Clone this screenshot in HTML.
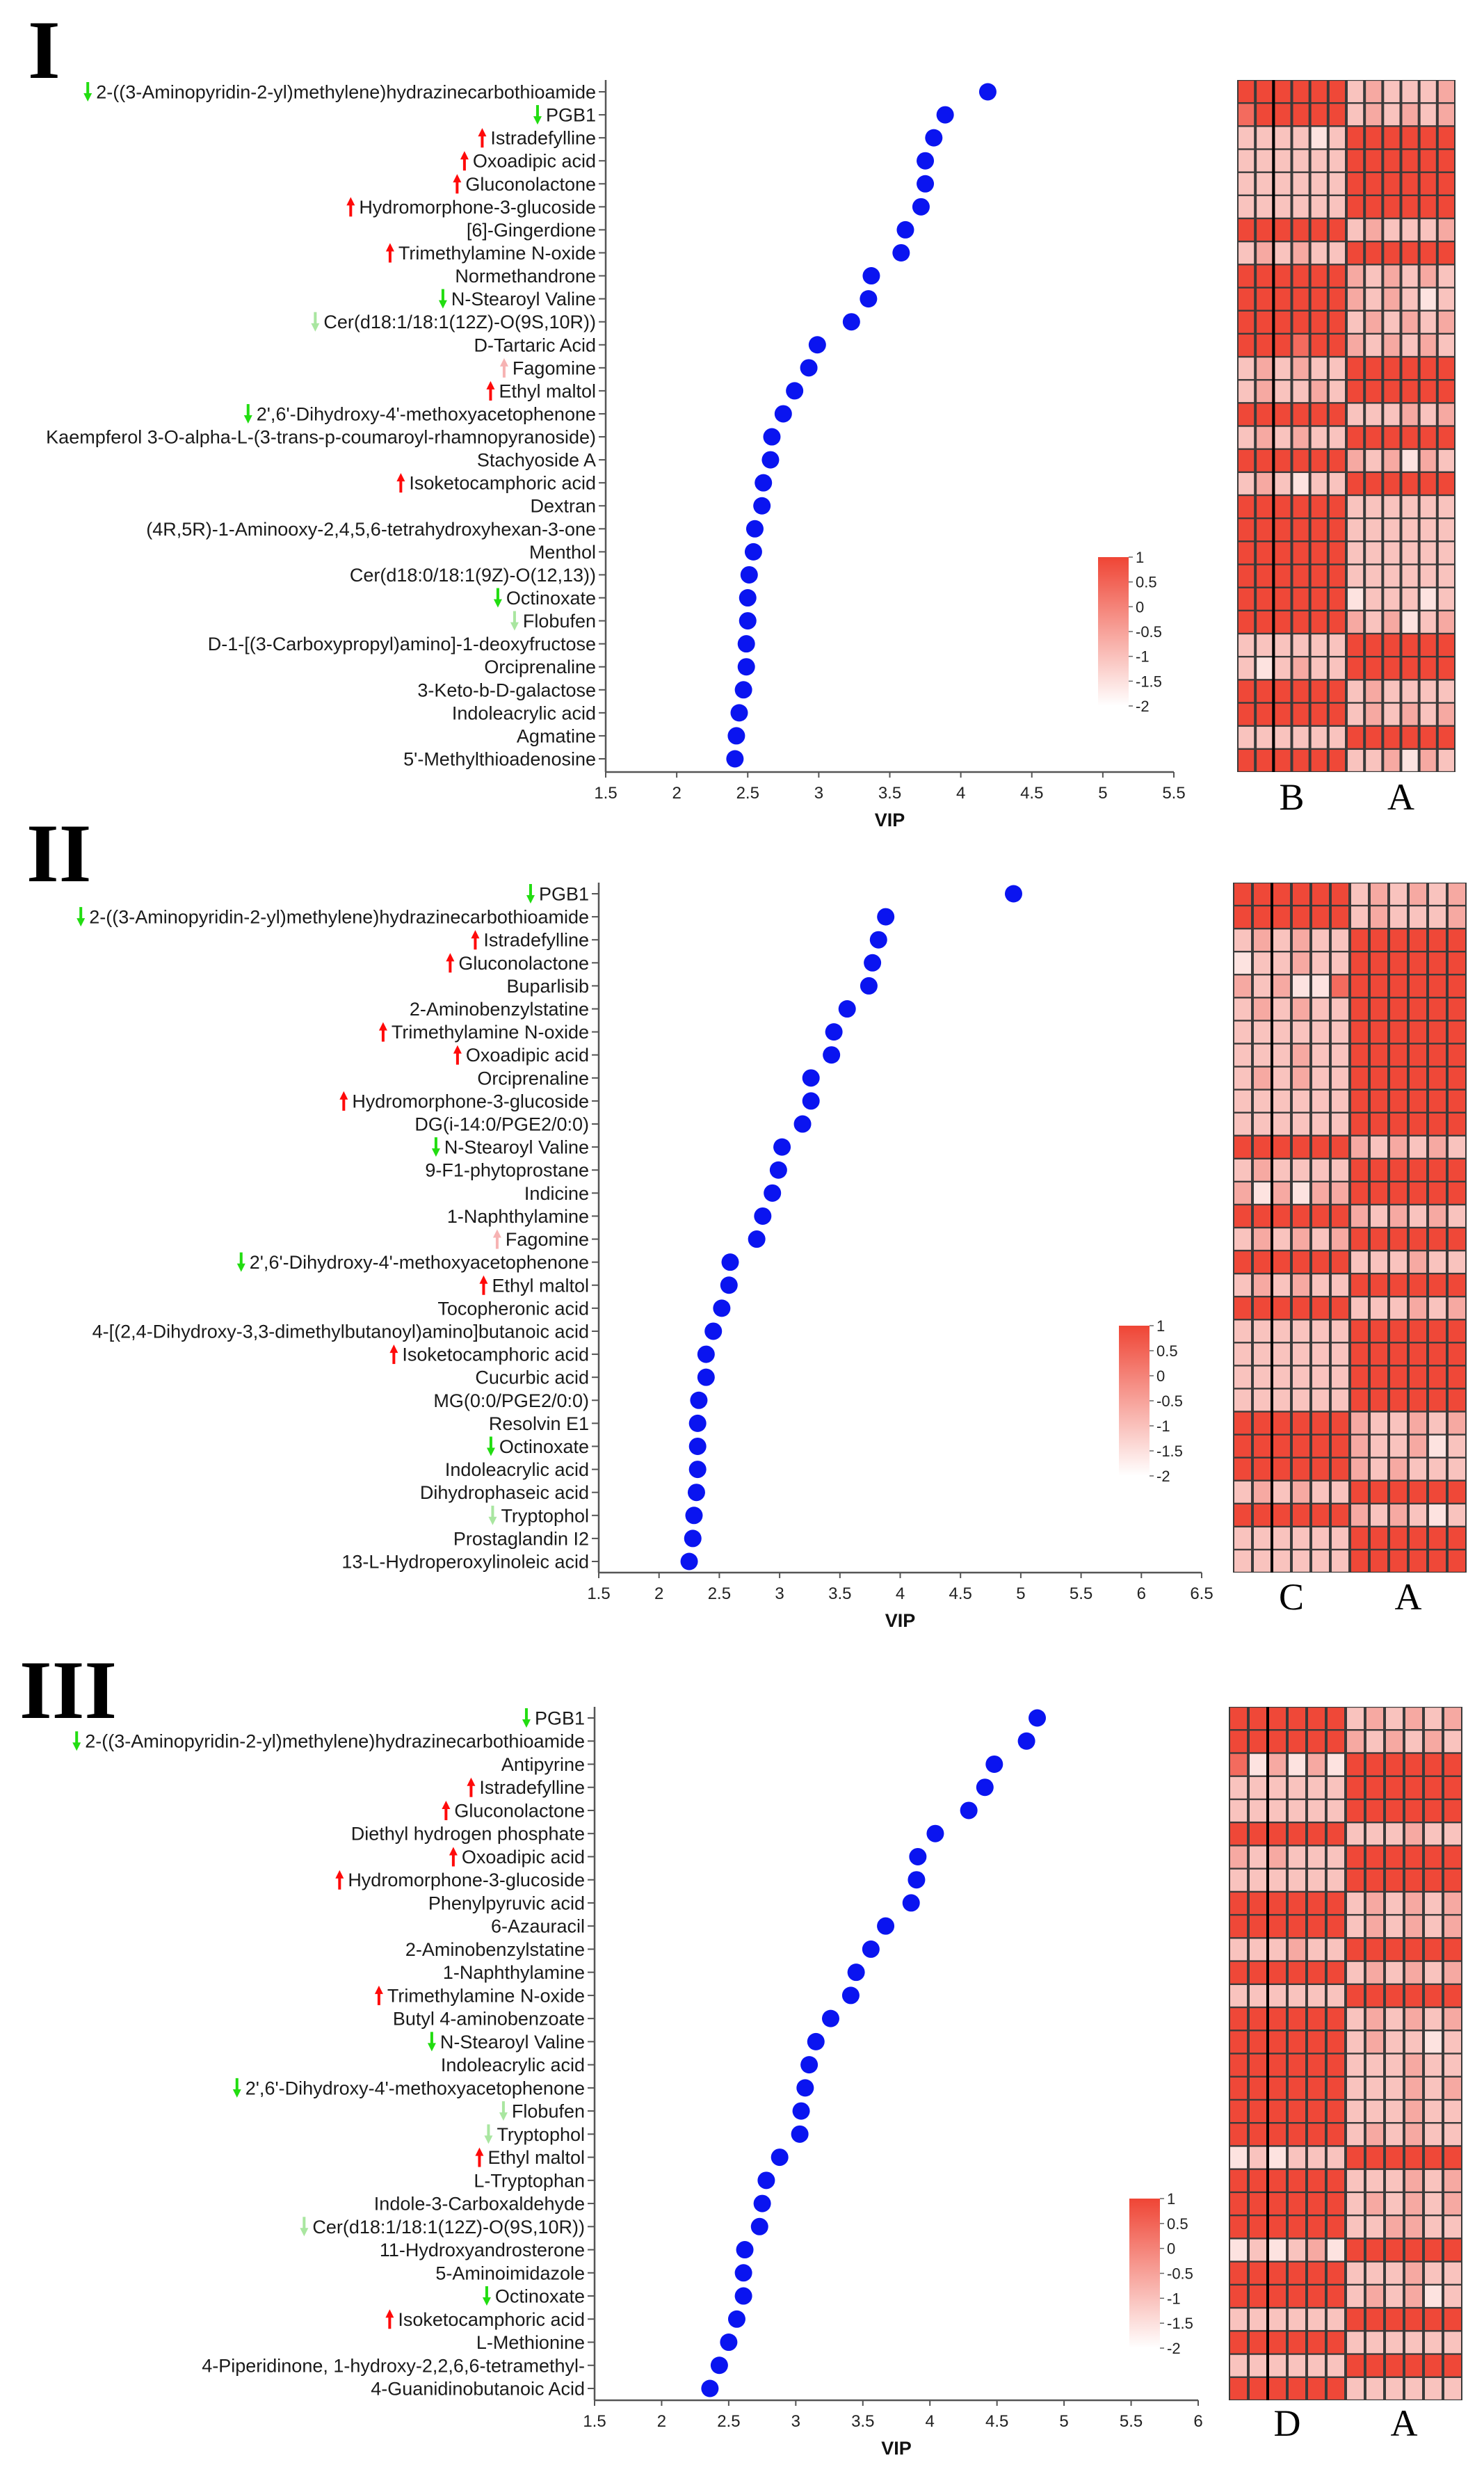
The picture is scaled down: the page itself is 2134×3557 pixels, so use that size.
<!DOCTYPE html>
<html><head><meta charset="utf-8"><style>
html,body{margin:0;padding:0;background:#fff;}
svg{display:block;font-family:"Liberation Sans",Arial,sans-serif;}
</style></head><body>
<svg id="fig" xmlns="http://www.w3.org/2000/svg" width="2134" height="3557" viewBox="0 0 2134 3557"></svg>
<script>
// ---------- Panel I data ----------
const labelsI = ["2-((3-Aminopyridin-2-yl)methylene)hydrazinecarbothioamide","PGB1","Istradefylline","Oxoadipic acid","Gluconolactone","Hydromorphone-3-glucoside","[6]-Gingerdione","Trimethylamine N-oxide","Normethandrone","N-Stearoyl Valine","Cer(d18:1/18:1(12Z)-O(9S,10R))","D-Tartaric Acid","Fagomine","Ethyl maltol","2',6'-Dihydroxy-4'-methoxyacetophenone","Kaempferol 3-O-alpha-L-(3-trans-p-coumaroyl-rhamnopyranoside)","Stachyoside A","Isoketocamphoric acid","Dextran","(4R,5R)-1-Aminooxy-2,4,5,6-tetrahydroxyhexan-3-one","Menthol","Cer(d18:0/18:1(9Z)-O(12,13))","Octinoxate","Flobufen","D-1-[(3-Carboxypropyl)amino]-1-deoxyfructose","Orciprenaline","3-Keto-b-D-galactose","Indoleacrylic acid","Agmatine","5'-Methylthioadenosine"];
const vipI = [4.19,3.89,3.81,3.75,3.75,3.72,3.61,3.58,3.37,3.35,3.23,2.99,2.93,2.83,2.75,2.67,2.66,2.61,2.60,2.55,2.54,2.51,2.50,2.50,2.49,2.49,2.47,2.44,2.42,2.41];
const arrowsI = ["G","G","R","R","R","R","","R","","G","LG","","P","R","G","","","R","","","","","G","LG","","","","","",""];
const heatI = ["444444121112","344444121212","111101444444","111111444444","111111444444","111111444444","444444121112","121211444444","444444212121","444444212101","444444121212","444344212121","121211444444","121121444444","444444111212","121211444444","444444212021","121011444444","444444111111","444444111111","444444111111","444444111111","444444011101","444444212012","111111444444","101211444444","444444121111","444444121212","111111444444","444444112021"];
const ticksI = [1.5,2,2.5,3,3.5,4,4.5,5,5.5];
// ---------- Panel II data ----------
const labelsII = ["PGB1","2-((3-Aminopyridin-2-yl)methylene)hydrazinecarbothioamide","Istradefylline","Gluconolactone","Buparlisib","2-Aminobenzylstatine","Trimethylamine N-oxide","Oxoadipic acid","Orciprenaline","Hydromorphone-3-glucoside","DG(i-14:0/PGE2/0:0)","N-Stearoyl Valine","9-F1-phytoprostane","Indicine","1-Naphthylamine","Fagomine","2',6'-Dihydroxy-4'-methoxyacetophenone","Ethyl maltol","Tocopheronic acid","4-[(2,4-Dihydroxy-3,3-dimethylbutanoyl)amino]butanoic acid","Isoketocamphoric acid","Cucurbic acid","MG(0:0/PGE2/0:0)","Resolvin E1","Octinoxate","Indoleacrylic acid","Dihydrophaseic acid","Tryptophol","Prostaglandin I2","13-L-Hydroperoxylinoleic acid"];
const vipII = [4.94,3.88,3.82,3.77,3.74,3.56,3.45,3.43,3.26,3.26,3.19,3.02,2.99,2.94,2.86,2.81,2.59,2.58,2.52,2.45,2.39,2.39,2.33,2.32,2.32,2.32,2.31,2.29,2.28,2.25];
const arrowsII = ["G","G","R","R","","","R","R","","R","","G","","","","P","G","R","","","R","","","","G","","","LG","",""];
const heatII = ["444444121212","444444121112","121211444444","011211444444","212003444444","121211444444","111111444444","111211444444","121211444444","111111444444","111111444444","444444212121","121111444444","202022444444","444444212121","121212444444","444444111211","121211444444","444444111212","111111444444","111111444444","111111444444","111111444444","444444211212","444444211201","444444212111","121211444444","444444212101","111111444444","111111444444"];
const ticksII = [1.5,2,2.5,3,3.5,4,4.5,5,5.5,6,6.5];
// ---------- Panel III data ----------
const labelsIII = ["PGB1","2-((3-Aminopyridin-2-yl)methylene)hydrazinecarbothioamide","Antipyrine","Istradefylline","Gluconolactone","Diethyl hydrogen phosphate","Oxoadipic acid","Hydromorphone-3-glucoside","Phenylpyruvic acid","6-Azauracil","2-Aminobenzylstatine","1-Naphthylamine","Trimethylamine N-oxide","Butyl 4-aminobenzoate","N-Stearoyl Valine","Indoleacrylic acid","2',6'-Dihydroxy-4'-methoxyacetophenone","Flobufen","Tryptophol","Ethyl maltol","L-Tryptophan","Indole-3-Carboxaldehyde","Cer(d18:1/18:1(12Z)-O(9S,10R))","11-Hydroxyandrosterone","5-Aminoimidazole","Octinoxate","Isoketocamphoric acid","L-Methionine","4-Piperidinone, 1-hydroxy-2,2,6,6-tetramethyl-","4-Guanidinobutanoic Acid"];
const vipIII = [4.80,4.72,4.48,4.41,4.29,4.04,3.91,3.90,3.86,3.67,3.56,3.45,3.41,3.26,3.15,3.10,3.07,3.04,3.03,2.88,2.78,2.75,2.73,2.62,2.61,2.61,2.56,2.50,2.43,2.36];
const arrowsIII = ["G","G","","R","R","","R","R","","","","","R","","G","","G","LG","LG","R","","","LG","","","G","R","","",""];
const heatIII = ["444444121212","444444212121","302020444444","111111444444","111111444444","444444111211","212111444444","111111444444","444444121212","444444121212","111211444444","444444121212","111111444444","444444121212","444444121101","444444111211","444444111212","444444111211","444444121211","010111444444","444444111212","444444121212","444444112211","010120444444","444444111211","444444121201","111111444444","444444111111","111111444444","444444111111"];
const ticksIII = [1.5,2,2.5,3,3.5,4,4.5,5,5.5,6];
const cbTicks = [1,0.5,0,-0.5,-1,-1.5,-2];

const NS="http://www.w3.org/2000/svg";
const svg=document.getElementById('fig');
function mk(tag,attrs,parent){const e=document.createElementNS(NS,tag);for(const k in attrs)e.setAttribute(k,attrs[k]);(parent||svg).appendChild(e);return e;}
const levelColor=["#fde3e0","#f9c3be","#f6a9a2","#f36b5e","#ef4838"];
const arrowColor={G:"#22dd11",R:"#ff0a0a",LG:"#a9e6a0",P:"#f6b3b3"};

const defs=mk('defs',{});
const lg=mk('linearGradient',{id:'cbgrad',x1:0,y1:0,x2:0,y2:1},defs);
mk('stop',{offset:'0','stop-color':'#ef4535'},lg);
mk('stop',{offset:'1','stop-color':'#ffffff'},lg);

function panel(p){
  const g=mk('g',{});
  
  
  const xs=v=>p.x0+(v-p.vmin)/(p.vmax-p.vmin)*(p.x1-p.x0);
  const ys=i=>p.y0+i*(p.y1-p.y0)/(p.labels.length-1);
  const rn=mk('text',{x:p.rx,y:p.ry,'font-family':'"Liberation Serif",serif','font-weight':'bold','font-size':p.rsize,fill:'#000'},g);
  rn.textContent=p.roman;
  
  
  const ya=mk('line',{x1:p.x0,y1:p.axTop,x2:p.x0,y2:p.axY,stroke:'#555','stroke-width':2.5},g);
  
  
  const xa=mk('line',{x1:p.x0,y1:p.axY,x2:p.x1,y2:p.axY,stroke:'#555','stroke-width':2.5},g);
  
  
  p.ticks.forEach(t=>{
    const x=xs(t);
    mk('line',{x1:x,y1:p.axY,x2:x,y2:p.axY+8,stroke:'#555','stroke-width':2},g);
    const tl=mk('text',{x:x,y:p.axY+38,'text-anchor':'middle','font-size':24,fill:'#222'},g);
    tl.textContent=String(t);
    
    
  });
  const xt=mk('text',{x:(p.x0+p.x1)/2,y:p.axY+78,'text-anchor':'middle','font-size':27,'font-weight':'bold',fill:'#111'},g);
  xt.textContent='VIP';
  
  
  p.labels.forEach((lab,i)=>{
    const y=ys(i);
    mk('line',{x1:p.x0-10,y1:y,x2:p.x0,y2:y,stroke:'#555','stroke-width':2},g);
    const t=mk('text',{x:p.x0-14,y:y+9.5,'text-anchor':'end','font-size':27,fill:'#1a1a1a'},g);
    t.textContent=lab;
    
    
    const a=p.arrows[i];
    if(a){
      const w=t.getComputedTextLength();
      const ax=p.x0-14-w-12;
      const c=arrowColor[a];
      const ag=mk('g',{fill:c,stroke:'none'},g);
      
      
      if(a==='R'||a==='P'){
        mk('rect',{x:ax-2,y:y-4,width:4,height:18},ag);
        mk('polygon',{points:`${ax-6},${y-2} ${ax+6},${y-2} ${ax},${y-14}`},ag);
      }else{
        mk('rect',{x:ax-2,y:y-14,width:4,height:18},ag);
        mk('polygon',{points:`${ax-6},${y+2} ${ax+6},${y+2} ${ax},${y+14}`},ag);
      }
    }
    const d=mk('circle',{cx:xs(p.vip[i]),cy:y,r:12.5,fill:'#0a14f0'},g);
    
    
  });
  const hg=mk('g',{},g);
  
  
  mk('rect',{x:p.hx0,y:p.hy0,width:p.hx1-p.hx0,height:p.hy1-p.hy0,fill:'#3a3a3a'},hg);
  const cw=(p.hx1-p.hx0)/12, ch=(p.hy1-p.hy0)/p.heat.length;
  p.heat.forEach((row,r)=>{
    for(let c=0;c<12;c++){
      const cell=mk('rect',{x:p.hx0+c*cw+2,y:p.hy0+r*ch+1.2,width:cw-4,height:ch-2.4,fill:levelColor[+row[c]]},hg);
      
      
    }
  });
  mk('line',{x1:p.hx0+2*cw,y1:p.hy0,x2:p.hx0+2*cw,y2:p.hy1,stroke:'#000','stroke-width':4},hg);
  const g1=mk('text',{x:p.hx0+3*cw,y:p.gy,'text-anchor':'middle','font-family':'"Liberation Serif",serif','font-size':54,fill:'#000'},g);
  g1.textContent=p.g1;
  
  
  const g2=mk('text',{x:p.hx0+9*cw,y:p.gy,'text-anchor':'middle','font-family':'"Liberation Serif",serif','font-size':54,fill:'#000'},g);
  g2.textContent='A';
  
  
  const cb=mk('g',{},g);
  
  
  mk('rect',{x:p.cx,y:p.cy0,width:44,height:p.cy1-p.cy0,fill:'url(#cbgrad)'},cb);
  cbTicks.forEach(v=>{
    const y=p.cy0+(1-v)/3*(p.cy1-p.cy0);
    mk('line',{x1:p.cx+44,y1:y,x2:p.cx+50,y2:y,stroke:'#666','stroke-width':1.5},cb);
    const t=mk('text',{x:p.cx+54,y:y+8,'font-size':22,fill:'#222'},cb);
    t.textContent=String(v);
    
    
  });
}

panel({id:'i',roman:'I',rx:40,ry:112,rsize:120,labels:labelsI,vip:vipI,arrows:arrowsI,heat:heatI,ticks:ticksI,
  vmin:1.5,vmax:5.5,x0:871,x1:1688,y0:132,y1:1091,axTop:115,axY:1110,
  hx0:1779,hx1:2093,hy0:115,hy1:1110,g1:'B',gy:1164,cx:1579,cy0:801,cy1:1015});
panel({id:'ii',roman:'II',rx:38,ry:1267,rsize:120,labels:labelsII,vip:vipII,arrows:arrowsII,heat:heatII,ticks:ticksII,
  vmin:1.5,vmax:6.5,x0:861,x1:1728,y0:1285,y1:2245,axTop:1269,axY:2261,
  hx0:1773,hx1:2109,hy0:1269,hy1:2261,g1:'C',gy:2314,cx:1609,cy0:1906,cy1:2122});
panel({id:'iii',roman:'III',rx:28,ry:2470,rsize:120,labels:labelsIII,vip:vipIII,arrows:arrowsIII,heat:heatIII,ticks:ticksIII,
  vmin:1.5,vmax:6,x0:855,x1:1723,y0:2470,y1:3434,axTop:2454,axY:3451,
  hx0:1767,hx1:2103,hy0:2454,hy1:3451,g1:'D',gy:3502,cx:1624,cy0:3161,cy1:3376});
</script>
</body></html>
